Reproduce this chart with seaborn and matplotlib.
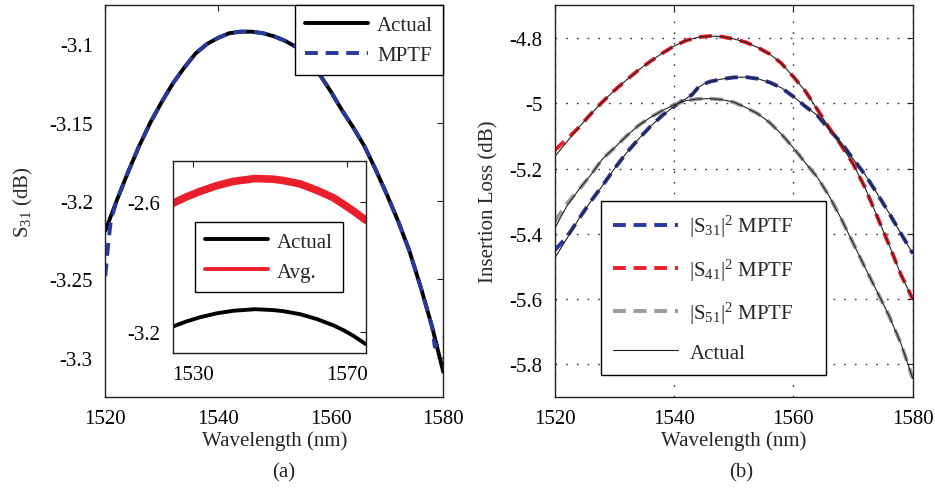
import numpy as np
import seaborn as sns
import matplotlib.pyplot as plt

# (a) S31, actual vs MPTF
wl_a = [1520, 1522, 1524, 1526, 1528, 1530, 1532, 1534, 1536, 1538, 1540, 1542, 1544,
        1546, 1548, 1550, 1552, 1554, 1556, 1558, 1560, 1562, 1564, 1566, 1568, 1570,
        1572, 1574, 1576, 1578, 1580]
s31_actual = [-3.219, -3.200, -3.182, -3.165, -3.150, -3.137, -3.125, -3.115, -3.106, -3.100,
              -3.096, -3.093, -3.092, -3.092, -3.093, -3.095, -3.098, -3.102, -3.110, -3.119,
              -3.130, -3.142, -3.153, -3.165, -3.180, -3.196, -3.213, -3.232, -3.255, -3.280,
              -3.309]
wl_a_mptf = [1520, 1520.5, 1521, 1522, 1524, 1526, 1528, 1530, 1532, 1534, 1536, 1538, 1540,
             1542, 1544, 1546, 1548, 1550, 1552, 1554, 1556, 1558, 1560, 1562, 1564, 1566,
             1568, 1570, 1572, 1574, 1576, 1578, 1578.5, 1580]
s31_mptf = [-3.248, -3.228, -3.212, -3.200, -3.182, -3.165, -3.150, -3.137, -3.125, -3.115,
            -3.106, -3.100, -3.096, -3.093, -3.092, -3.092, -3.093, -3.095, -3.098, -3.102,
            -3.110, -3.119, -3.130, -3.142, -3.153, -3.165, -3.180, -3.196, -3.213, -3.232,
            -3.255, -3.280, -3.293, -3.287]

# inset
wl_in = [1524.8, 1528.4, 1531.9, 1536.2, 1540.6, 1546.2, 1550.9, 1553.5, 1557.9, 1562.2,
         1566.5, 1569.1, 1571.7, 1574.9]
in_actual = [-3.174, -3.150, -3.131, -3.113, -3.101, -3.094, -3.098, -3.103, -3.117, -3.139,
             -3.168, -3.190, -3.216, -3.254]
in_avg = [-2.608, -2.578, -2.553, -2.527, -2.507, -2.494, -2.497, -2.503, -2.519, -2.548,
          -2.582, -2.612, -2.643, -2.685]

# (b) insertion loss
wl_b = [1520, 1522, 1524, 1526, 1528, 1530, 1532, 1534, 1536, 1538, 1540, 1542, 1544,
        1546, 1548, 1550, 1552, 1554, 1556, 1558, 1560, 1562, 1564, 1566, 1568, 1570,
        1572, 1574, 1576, 1578, 1580]
wl_b31 = [1520, 1522, 1524, 1526, 1528, 1530, 1532, 1534, 1536, 1538, 1540, 1541, 1542,
          1543, 1544, 1545, 1546, 1548, 1550, 1552, 1554, 1556, 1558, 1560, 1562, 1564,
          1566, 1568, 1570, 1572, 1574, 1576, 1578, 1580]
s31_act = [-5.474, -5.415, -5.355, -5.301, -5.252, -5.200, -5.152, -5.110, -5.071, -5.037,
           -5.009, -4.996, -4.985, -4.973, -4.952, -4.940, -4.933, -4.925, -4.920, -4.919,
           -4.924, -4.935, -4.952, -4.979, -5.009, -5.036, -5.080, -5.120, -5.170, -5.218,
           -5.275, -5.335, -5.398, -5.460]
s31_fit = [-5.450, -5.410, -5.355, -5.301, -5.252, -5.200, -5.152, -5.110, -5.071, -5.037,
           -5.009, -4.996, -4.985, -4.973, -4.952, -4.940, -4.933, -4.925, -4.920, -4.919,
           -4.924, -4.935, -4.952, -4.979, -5.009, -5.036, -5.080, -5.120, -5.170, -5.218,
           -5.275, -5.335, -5.398, -5.460]
s41_act = [-5.163, -5.118, -5.074, -5.033, -4.995, -4.960, -4.928, -4.898, -4.871, -4.846,
           -4.824, -4.807, -4.797, -4.793, -4.795, -4.802, -4.812, -4.828, -4.848, -4.877,
           -4.918, -4.962, -5.018, -5.075, -5.128, -5.185, -5.258, -5.345, -5.432, -5.524,
           -5.600]
s41_fit = [-5.143, -5.110, -5.074, -5.033, -4.995, -4.960, -4.928, -4.898, -4.871, -4.846,
           -4.824, -4.807, -4.797, -4.793, -4.795, -4.802, -4.812, -4.828, -4.848, -4.877,
           -4.918, -4.962, -5.018, -5.075, -5.128, -5.185, -5.258, -5.345, -5.432, -5.524,
           -5.600]
s51_act = [-5.383, -5.315, -5.265, -5.220, -5.170, -5.136, -5.100, -5.068, -5.043, -5.022,
           -5.004, -4.991, -4.986, -4.985, -4.988, -4.996, -5.012, -5.031, -5.058, -5.094,
           -5.136, -5.182, -5.226, -5.284, -5.353, -5.428, -5.503, -5.576, -5.650, -5.735,
           -5.843]
s51_fit = [-5.362, -5.308, -5.265, -5.220, -5.170, -5.136, -5.100, -5.068, -5.043, -5.022,
           -5.004, -4.991, -4.986, -4.985, -4.988, -4.996, -5.012, -5.031, -5.058, -5.094,
           -5.136, -5.182, -5.226, -5.284, -5.353, -5.428, -5.503, -5.576, -5.650, -5.735,
           -5.843]

blue = '#28389c'
red = '#ea1f2b'
gray = '#9b9b9b'
FS = 15
DASHED = (0, (3.3, 2.0))  # MATLAB-like long dashes

sns.set_theme(style='white')
plt.rcParams['font.family'] = ['Liberation Serif', 'DejaVu Serif']
plt.rcParams['mathtext.fontset'] = 'custom'
plt.rcParams['mathtext.rm'] = 'Liberation Serif'
plt.rcParams['mathtext.it'] = 'Liberation Serif:italic'
plt.rcParams['font.size'] = FS
plt.rcParams['axes.edgecolor'] = '#222222'
plt.rcParams['axes.linewidth'] = 1.0
plt.rcParams['legend.edgecolor'] = 'black'

fig = plt.figure(figsize=(9.35, 4.89), dpi=100)
ax1 = fig.add_axes([0.1126, 0.1861, 0.3615, 0.8016])
ax2 = fig.add_axes([0.5933, 0.1861, 0.3829, 0.8016])
axin = fig.add_axes([0.1847, 0.2761, 0.2064, 0.3933])


def style_ticks(ax):
    ax.tick_params(direction='in', top=True, right=True, length=4, width=0.8,
                   labelsize=FS, colors='#222222')
    ax.tick_params(axis='y', pad=9)
    ax.tick_params(axis='x', pad=9)
    for lab in ax.get_xticklabels() + ax.get_yticklabels():
        lab.set_color('black')


## (a)
sns.lineplot(x=wl_a, y=s31_actual, ax=ax1, color='black', lw=2.8, label='Actual')
sns.lineplot(x=wl_a_mptf, y=s31_mptf, ax=ax1, color=blue, lw=2.8, linestyle=DASHED,
             label='MPTF')
ax1.set_xlim(1520, 1580)
ax1.set_ylim(-3.325, -3.075)
ax1.set_xticks([1520, 1540, 1560, 1580])
ax1.set_yticks([-3.1, -3.15, -3.2, -3.25, -3.3])
ax1.set_yticklabels(['-3.1', '-3.15', '-3.2', '-3.25', '-3.3'])
ax1.set_xlabel('Wavelength (nm)', fontsize=FS, labelpad=1)
ax1.set_ylabel('S$_{31}$ (dB)', fontsize=FS, labelpad=10)
style_ticks(ax1)
leg1 = ax1.legend(loc='upper right', borderaxespad=0, fancybox=False, framealpha=1,
                  handlelength=3.0, handletextpad=0.45, labelspacing=0.5, fontsize=FS,
                  borderpad=0.5)
leg1.get_frame().set_linewidth(1.0)

# inset
sns.lineplot(x=wl_in, y=in_actual, ax=axin, color='black', lw=2.8, label='Actual')
sns.lineplot(x=wl_in, y=in_avg, ax=axin, color=red, lw=5.5, label='Avg.')
axin.set_xlim(1524.8, 1574.9)
axin.set_ylim(-3.295, -2.412)
axin.set_xticks([1530, 1570])
axin.set_yticks([-2.6, -3.2])
axin.set_yticklabels(['-2.6', '-3.2'])
axin.set_xlabel('')
axin.set_ylabel('')
style_ticks(axin)
legin = axin.legend(loc='center', bbox_to_anchor=(0.5, 0.5), fancybox=False, framealpha=1,
                    handlelength=3.0, handletextpad=0.45, labelspacing=0.5, fontsize=FS,
                    borderpad=0.5)
legin.get_frame().set_linewidth(1.0)
for ln in legin.get_lines():
    ln.set_linewidth(2.8)

## (b)
sns.lineplot(x=wl_b31, y=s31_fit, ax=ax2, color=blue, lw=2.8, linestyle=DASHED,
             label='|S$_{31}$|$^{2}$ MPTF')
sns.lineplot(x=wl_b, y=s41_fit, ax=ax2, color=red, lw=2.8, linestyle=DASHED,
             label='|S$_{41}$|$^{2}$ MPTF')
sns.lineplot(x=wl_b, y=s51_fit, ax=ax2, color=gray, lw=2.8, linestyle=DASHED,
             label='|S$_{51}$|$^{2}$ MPTF')
sns.lineplot(x=wl_b31, y=s31_act, ax=ax2, color='#222222', lw=0.8, label='Actual')
sns.lineplot(x=wl_b, y=s41_act, ax=ax2, color='#222222', lw=0.8)
sns.lineplot(x=wl_b, y=s51_act, ax=ax2, color='#222222', lw=0.8)
ax2.set_xlim(1520, 1580)
ax2.set_ylim(-5.9, -4.698)
ax2.set_xticks([1520, 1540, 1560, 1580])
ax2.set_yticks([-4.8, -5.0, -5.2, -5.4, -5.6, -5.8])
ax2.set_yticklabels(['-4.8', '-5', '-5.2', '-5.4', '-5.6', '-5.8'])
ax2.grid(True, color='#333333', linestyle=(0, (1.2, 6.5)), linewidth=1.0)
ax2.set_xlabel('Wavelength (nm)', fontsize=FS, labelpad=1)
ax2.set_ylabel('Insertion Loss (dB)', fontsize=FS, labelpad=8)
style_ticks(ax2)
leg2 = ax2.legend(loc='lower left', bbox_to_anchor=(0.129, 0.056, 0.629, 0.44), mode='expand',
                  borderaxespad=0, fancybox=False, framealpha=1, handlelength=3.1,
                  handletextpad=0.55, labelspacing=0.82, fontsize=FS, borderpad=0.6)
leg2.get_frame().set_linewidth(1.0)

fig.text(0.3035, 1 - 473 / 489, '(a)', ha='center', va='center', fontsize=FS)
fig.text(0.7925, 1 - 473 / 489, '(b)', ha='center', va='center', fontsize=FS)

fig.savefig('out.png', dpi=100)
